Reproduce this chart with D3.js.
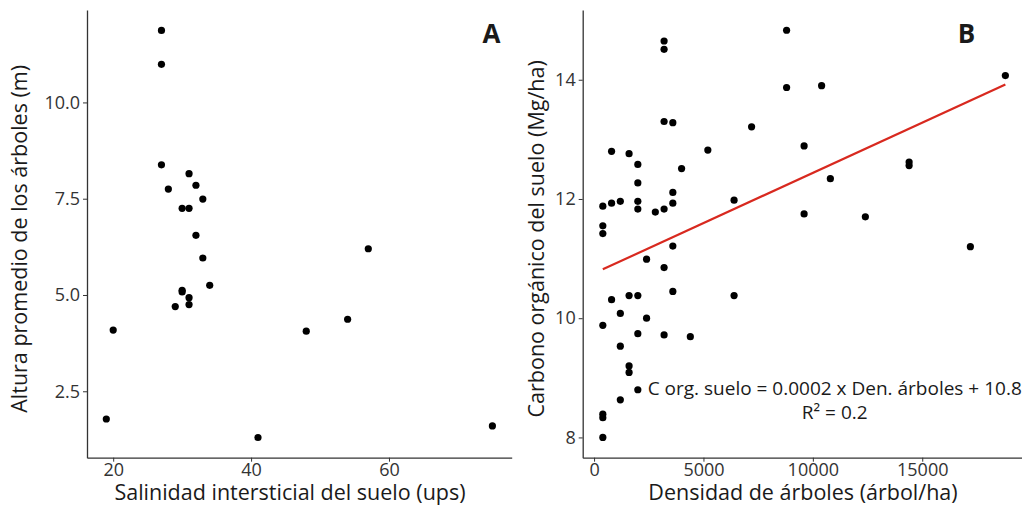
<!DOCTYPE html>
<head>
  <meta charset="utf-8">
  <script src="https://d3js.org/d3.v7.min.js"></script>
  <style>
    body { margin:0; background:#fff; }
    text { font-family: 'Open Sans', sans-serif; }
    .axis path, .axis line { stroke: #333; }
    .axis path { stroke-width: 1.3px; }
    .axis text { font-size: 18px; fill: #333; }
    .title { font-size: 21.5px; fill: #1a1a1a; }
    .tag { font-size: 26px; font-weight: 700; fill: #1a1a1a; }
    .eq { font-size: 19px; fill: #1a1a1a; }
  </style>
</head>
<body>
  <script>
    // panel A: salinity vs mean tree height
    var salinity = [27, 27, 27, 28, 31, 32, 33, 30, 31, 32, 57, 33, 34, 30, 30, 31, 31, 29, 20, 48, 54, 19, 41, 75];
    var treeHeight = [11.87, 10.99, 8.38, 7.75, 8.15, 7.85, 7.49, 7.25, 7.25, 6.55, 6.20, 5.96, 5.25, 5.12, 5.08, 4.93, 4.75, 4.70, 4.09, 4.06, 4.37, 1.78, 1.30, 1.60];
    var ticksAx = [20, 40, 60];
    var ticksAy = [2.5, 5.0, 7.5, 10.0];

    // panel B: tree density vs soil organic carbon
    var density = [8800, 3200, 3200, 18800, 8800, 10400, 3200, 3600, 7200, 9600, 800, 5200, 1600, 2000, 4000, 14400, 14400, 10800, 2000, 3600,
                   6400, 400, 800, 1200, 2000, 2000, 2800, 3200, 3600, 9600, 12400, 400, 400, 3600, 17200, 2400,
                   3200, 3600, 800, 1600, 2000, 6400, 1200, 2400, 400, 2000, 3200, 4400, 1200, 1600, 1600, 2000, 1200, 400, 400, 400];
    var carbon = [14.83, 14.65, 14.51, 14.07, 13.87, 13.90, 13.30, 13.28, 13.21, 12.89, 12.80, 12.82, 12.76, 12.58, 12.51, 12.62, 12.56, 12.34, 12.27, 12.11,
                  11.98, 11.88, 11.93, 11.96, 11.96, 11.83, 11.78, 11.83, 11.93, 11.75, 11.70, 11.55, 11.42, 11.21, 11.20, 10.99,
                  10.85, 10.45, 10.31, 10.38, 10.38, 10.38, 10.08, 10.00, 9.88, 9.74, 9.72, 9.69, 9.53, 9.20, 9.09, 8.80, 8.63, 8.39, 8.33, 8.00];
    var fitDensity = [400, 18800];
    var fitCarbon = [10.82, 13.92];
    var ticksBx = [0, 5000, 10000, 15000];
    var ticksBy = [8, 10, 12, 14];
    var eqLines = ["C org. suelo = 0.0002 x Den. árboles + 10.8", "R\u00b2 = 0.2"];

    var W = 1022, H = 513;
    var svg = d3.select("body").append("svg")
      .attr("width", W)
      .attr("height", H);

    var plotTop = 10, plotBottom = 457.7;

    function panel(cfg) {
      var x = d3.scaleLinear().domain(cfg.xDomain).range([cfg.left, cfg.right]);
      var y = d3.scaleLinear().domain(cfg.yDomain).range([plotBottom, plotTop]);
      var g = svg.append("g");

      g.append("g")
        .attr("class", "axis")
        .attr("transform", "translate(0," + plotBottom + ")")
        .call(d3.axisBottom(x).tickValues(cfg.xTicks).tickSize(4).tickSizeOuter(0).tickPadding(2).tickFormat(cfg.xFmt));

      g.append("g")
        .attr("class", "axis")
        .attr("transform", "translate(" + cfg.left + ",0)")
        .call(d3.axisLeft(y).tickValues(cfg.yTicks).tickSize(4).tickSizeOuter(0).tickPadding(3).tickFormat(cfg.yFmt));

      g.append("text")
        .attr("class", "title")
        .attr("text-anchor", "middle")
        .attr("x", cfg.xTitleX)
        .attr("y", 500)
        .text(cfg.xTitle);

      g.append("text")
        .attr("class", "title")
        .attr("text-anchor", "middle")
        .attr("transform", "translate(" + cfg.yTitleX + "," + ((plotTop + plotBottom) / 2 + 5) + ") rotate(-90)")
        .text(cfg.yTitle);

      g.append("text")
        .attr("class", "tag")
        .attr("text-anchor", "middle")
        .attr("x", cfg.tagX)
        .attr("y", 42.5)
        .text(cfg.tag);

      return {x: x, y: y, g: g};
    }

    var A = panel({
      left: 87, right: 511.7,
      xDomain: [16.2, 77.8], yDomain: [0.775, 12.4],
      xTicks: ticksAx, yTicks: ticksAy,
      xFmt: d3.format("d"), yFmt: d3.format(".1f"),
      xTitle: "Salinidad intersticial del suelo (ups)",
      yTitle: "Altura promedio de los árboles (m)",
      xTitleX: 290, yTitleX: 27,
      tag: "A", tagX: 491.5
    });

    A.g.append("g").selectAll("circle")
      .data(salinity)
      .enter().append("circle")
        .attr("cx", d => A.x(d))
        .attr("cy", (d, i) => A.y(treeHeight[i]))
        .attr("r", 3.6)
        .attr("fill", "#000");

    var B = panel({
      left: 582.7, right: 1025.5,
      xDomain: [-520, 19720], yDomain: [7.66, 15.17],
      xTicks: ticksBx, yTicks: ticksBy,
      xFmt: d3.format("d"), yFmt: d3.format("d"),
      xTitle: "Densidad de árboles (árbol/ha)",
      yTitle: "Carbono orgánico del suelo (Mg/ha)",
      xTitleX: 803, yTitleX: 544,
      tag: "B", tagX: 966.5
    });

    B.g.append("g").selectAll("circle")
      .data(density)
      .enter().append("circle")
        .attr("cx", d => B.x(d))
        .attr("cy", (d, i) => B.y(carbon[i]))
        .attr("r", 3.6)
        .attr("fill", "#000");

    var fitLine = d3.line()
      .x(d => B.x(d[0]))
      .y(d => B.y(d[1]));

    B.g.append("path")
      .datum(fitDensity.map((d, i) => [d, fitCarbon[i]]))
      .attr("d", fitLine)
      .attr("fill", "none")
      .attr("stroke", "#d8291f")
      .attr("stroke-width", 2.2);

    B.g.append("g").selectAll("text")
      .data(eqLines)
      .enter().append("text")
        .attr("class", "eq")
        .attr("text-anchor", "middle")
        .attr("dominant-baseline", "middle")
        .attr("x", B.x(11000))
        .attr("y", (d, i) => B.y([8.79, 8.39][i]))
        .text(d => d);
  </script>
</body>
